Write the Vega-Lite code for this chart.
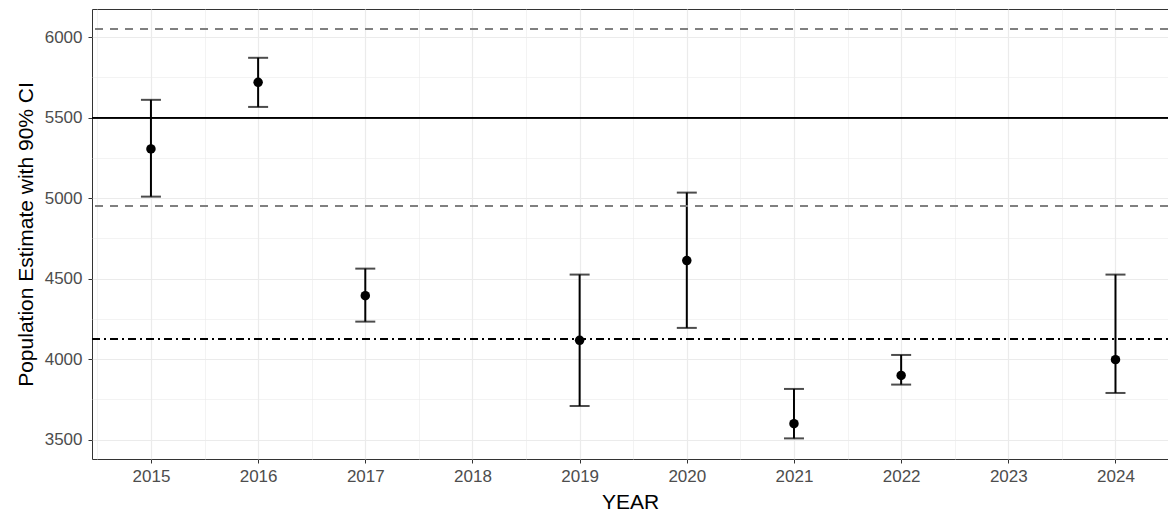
{
  "$schema": "https://vega.github.io/schema/vega-lite/v6.json",
  "autosize": "none",
  "width": 1076,
  "height": 450,
  "padding": {"left": 92, "top": 9, "right": 0, "bottom": 56},
  "background": "white",
  "config": {
    "view": {"stroke": "#333333", "strokeWidth": 1},
    "font": "Liberation Sans",
    "axis": {
      "labelFont": "Liberation Sans",
      "titleFont": "Liberation Sans",
      "labelColor": "#4d4d4d",
      "labelFontSize": 17,
      "titleFontSize": 21,
      "titleFontWeight": "normal",
      "titleColor": "#000000",
      "tickColor": "#333333",
      "tickSize": 4,
      "tickWidth": 1,
      "domain": false,
      "gridColor": "#ebebeb"
    }
  },
  "data": {
    "values": [
      {"year": 2015, "est": 5305, "lo": 5009, "hi": 5610},
      {"year": 2016, "est": 5719, "lo": 5566, "hi": 5871},
      {"year": 2017, "est": 4394, "lo": 4233, "hi": 4562},
      {"year": 2019, "est": 4117, "lo": 3709, "hi": 4525},
      {"year": 2020, "est": 4612, "lo": 4194, "hi": 5034},
      {"year": 2021, "est": 3599, "lo": 3508, "hi": 3815},
      {"year": 2022, "est": 3899, "lo": 3842, "hi": 4026},
      {"year": 2024, "est": 3997, "lo": 3790, "hi": 4525}
    ]
  },
  "resolve": {"axis": {"x": "independent", "y": "independent"}},
  "layer": [
    {
      "mark": {"type": "rule", "color": "#000000", "strokeWidth": 2},
      "encoding": {
        "x": {"field": "year", "type": "quantitative",
              "scale": {"domain": [2014.45, 2024.49], "nice": false, "zero": false},
              "axis": {"orient": "bottom", "values": [2014.5, 2015.5, 2016.5, 2017.5, 2018.5, 2019.5, 2020.5, 2021.5, 2022.5, 2023.5, 2024.5],
                       "labels": false, "ticks": false, "title": null, "grid": true, "gridWidth": 0.6}},
        "y": {"field": "lo", "type": "quantitative",
              "scale": {"domain": [3380, 6174], "nice": false, "zero": false},
              "axis": {"orient": "left", "values": [3750, 4250, 4750, 5250, 5750], "labels": false, "ticks": false, "title": null, "grid": true, "gridWidth": 0.6}},
        "y2": {"field": "hi"}
      }
    },
    {
      "mark": {"type": "tick", "color": "#000000", "orient": "horizontal", "size": 20, "thickness": 2},
      "encoding": {
        "x": {"field": "year", "type": "quantitative",
              "axis": {"orient": "bottom", "values": [2015, 2016, 2017, 2018, 2019, 2020, 2021, 2022, 2023, 2024], "format": "d",
                       "title": "YEAR", "grid": true, "gridWidth": 1.2, "labelPadding": 5, "titlePadding": 7}},
        "y": {"field": "lo", "type": "quantitative",
              "axis": {"orient": "left", "values": [3500, 4000, 4500, 5000, 5500, 6000], "format": "d",
                       "title": "Population Estimate with 90% CI", "grid": true, "gridWidth": 1.2, "labelPadding": 6, "titlePadding": 8}}
      }
    },
    {
      "mark": {"type": "tick", "color": "#000000", "orient": "horizontal", "size": 20, "thickness": 2},
      "encoding": {
        "x": {"field": "year", "type": "quantitative", "axis": null},
        "y": {"field": "hi", "type": "quantitative", "axis": null}
      }
    },
    {
      "mark": {"type": "rule", "color": "#000000", "strokeWidth": 1.3},
      "encoding": {"y": {"datum": 5500, "type": "quantitative", "axis": null}}
    },
    {
      "mark": {"type": "rule", "color": "#808080", "strokeWidth": 1.5, "strokeDash": [8, 7]},
      "encoding": {"y": {"datum": 6050, "type": "quantitative", "axis": null}}
    },
    {
      "mark": {"type": "rule", "color": "#808080", "strokeWidth": 1.5, "strokeDash": [8, 7]},
      "encoding": {"y": {"datum": 4950, "type": "quantitative", "axis": null}}
    },
    {
      "mark": {"type": "rule", "color": "#000000", "strokeWidth": 1.3, "strokeDash": [2, 4, 8, 4]},
      "encoding": {"y": {"datum": 4125, "type": "quantitative", "axis": null}}
    },
    {
      "mark": {"type": "point", "filled": true, "color": "#000000", "opacity": 1, "size": 90},
      "encoding": {
        "x": {"field": "year", "type": "quantitative", "axis": null},
        "y": {"field": "est", "type": "quantitative", "axis": null}
      }
    }
  ]
}
